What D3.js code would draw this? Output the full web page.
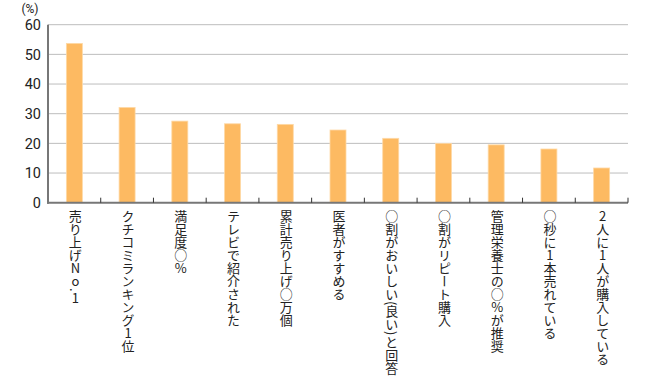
<!DOCTYPE html>
<html><head><meta charset="utf-8">
<script src="https://cdn.jsdelivr.net/npm/d3@7"></script>
<style>
body{margin:0;background:#fff;}
svg text{font-family:"Noto Sans CJK JP","Noto Sans",sans-serif;}
svg text.num{font-family:Roboto,"Liberation Sans",sans-serif;}
</style></head>
<body><svg id="c" width="650" height="390"></svg>
<script>
const categories = ["売り上げNo.1","クチコミランキング1位","満足度○%","テレビで紹介された","累計売り上げ○万個","医者がすすめる","○割がおいしい(良い)と回答","○割がリピート購入","管理栄養士の○%が推奨","○秒に1本売れている","2人に1人が購入している"];
const values = [53.7, 32.1, 27.5, 26.6, 26.4, 24.5, 21.7, 20.0, 19.5, 18.1, 11.7];
const yTicks = [0, 10, 20, 30, 40, 50, 60];
const yUnit = "(%)";

const svg = d3.select("#c");
const L = 48, R = 628, T = 24.7, B = 202.7;
const x = d3.scaleBand().domain(categories).range([L, R]).paddingInner(0).paddingOuter(0);
const y = d3.scaleLinear().domain([0, 60]).range([B, T]);

// gridlines
svg.append("g").selectAll("line").data(yTicks.filter(d => d > 0)).join("line")
  .attr("x1", L).attr("x2", R).attr("y1", d => y(d)).attr("y2", d => y(d))
  .attr("stroke", "#bdbdbd").attr("stroke-width", 1);

// y tick labels
svg.append("g").selectAll("text").data(yTicks).join("text")
  .attr("class", "num")
  .attr("x", 41).attr("y", d => y(d)).attr("dy", "0.36em")
  .attr("text-anchor", "end").attr("font-size", 14.5).attr("fill", "#222")
  .text(d => d);
svg.append("text").attr("class", "num").attr("x", 30).attr("y", 13).attr("text-anchor", "middle")
  .attr("font-size", 12).attr("fill", "#222").text(yUnit);

// bars
const bw = 16;
svg.append("g").selectAll("rect").data(values).join("rect")
  .attr("x", (d, i) => x(categories[i]) + x.bandwidth() / 2 - bw / 2)
  .attr("width", bw)
  .attr("y", d => y(d)).attr("height", d => B - y(d))
  .attr("fill", "#fdba62").attr("stroke", "#fed9a6").attr("stroke-width", 0.8);

// axes lines
svg.append("line").attr("x1", L).attr("x2", L).attr("y1", T).attr("y2", B + 1)
  .attr("stroke", "#777").attr("stroke-width", 2);
svg.append("line").attr("x1", L - 1).attr("x2", R).attr("y1", B).attr("y2", B)
  .attr("stroke", "#777").attr("stroke-width", 2);

// category boundary ticks
const bounds = categories.slice(1).map(c => x(c)).concat([R]);
svg.append("g").selectAll("line").data(bounds).join("line")
  .attr("x1", d => d).attr("x2", d => d).attr("y1", B - 5).attr("y2", B)
  .attr("stroke", "#333").attr("stroke-width", 1);

// vertical category labels
const narrow = new Set(["(", ")", "."]);
const labels = svg.append("g").selectAll("text").data(categories).join("text")
  .attr("x", d => x(d) + x.bandwidth() / 2 + 1)
  .attr("y", 210)
  .attr("font-size", 13).attr("fill", "#222")
  .style("writing-mode", "vertical-rl")
  .style("text-orientation", "upright");
labels.each(function(d) {
  const t = d3.select(this);
  const runs = [];
  for (const ch of d) {
    const n = narrow.has(ch);
    if (runs.length && runs[runs.length - 1].n === n) runs[runs.length - 1].s += ch;
    else runs.push({ n, s: ch });
  }
  runs.forEach(r => {
    const ts = t.append("tspan").text(r.s);
    if (r.n) ts.style("text-orientation", "mixed");
  });
});
</script></body></html>
